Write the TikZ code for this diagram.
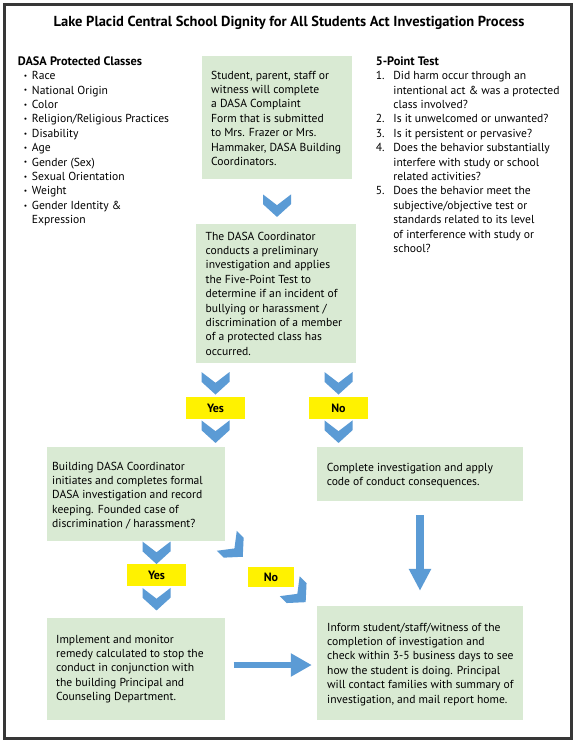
\documentclass[tikz,border=0pt]{standalone}
\usepackage{fontspec}
\setmainfont{PT Sans}
\usetikzlibrary{arrows.meta,calc}
\definecolor{boxgreen}{RGB}{217,234,211}
\definecolor{chevblue}{RGB}{91,155,213}
\definecolor{labyellow}{RGB}{255,242,0}
\definecolor{framegray}{RGB}{55,55,55}
\newcommand\dbul{\hspace*{6pt}\makebox[8.1pt][l]{\raisebox{1.2pt}{\fontsize{7.5}{7.5}\selectfont\textbullet}}}
\newcommand\nitm[1]{\makebox[17.6pt][l]{#1}}
\newcommand\ncnt{\hspace*{17.6pt}}
\newcommand\hdg[1]{{\fontsize{12.3}{14.4}\selectfont\bfseries #1}}
\begin{document}
\begin{tikzpicture}[x=1pt,y=-1pt,
  gbox/.style={fill=boxgreen, draw=none, inner sep=0pt, minimum width=#1},
  txt/.style={anchor=north west, inner sep=0pt, font=\fontsize{11.6}{14.4}\selectfont, align=left},
  lab/.style={fill=labyellow, inner sep=0pt, font=\fontsize{12}{13}\selectfont\bfseries},
  bigarrow/.style={draw=chevblue, line width=#1},
  chev/.pic={\fill[chevblue] (-14,-11.25)--(0,-0.5)--(14,-11.25)--(14,-1.5)--(0,11.25)--(-14,-1.5)--cycle;}
]
\useasboundingbox (0,0) rectangle (576,743);
\fill[white] (0,0) rectangle (576,743);
\draw[framegray, line width=2.6pt] (4.5,4.5) rectangle (571.5,738.5);

\node[inner sep=0pt, font=\fontsize{14.5}{16}\selectfont\bfseries] (title) at (289,23) {Lake Placid Central School Dignity for All Students Act Investigation Process};

% left list
\node[txt] (classes) at (17.7,56.3) {\hdg{DASA Protected Classes}\\
\dbul Race\\ \dbul National Origin\\ \dbul Color\\ \dbul Religion/Religious Practices\\
\dbul Disability\\ \dbul Age\\ \dbul Gender (Sex)\\ \dbul Sexual Orientation\\ \dbul Weight\\
\dbul Gender Identity \&\\ \hspace*{14.1pt}Expression};

% right list
\node[txt] (test) at (375.6,56.3) {\hdg{5-Point Test}\\
\nitm{1.}Did harm occur through an\\ \ncnt intentional act \& was a protected\\ \ncnt class involved?\\
\nitm{2.}Is it unwelcomed or unwanted?\\
\nitm{3.}Is it persistent or pervasive?\\
\nitm{4.}Does the behavior substantially\\ \ncnt interfere with study or school\\ \ncnt related activities?\\
\nitm{5.}Does the behavior meet the\\ \ncnt subjective/objective test or\\ \ncnt standards related to its level\\ \ncnt of interference with study or\\ \ncnt school?};

% boxes
\node[gbox=150pt, minimum height=123pt] (b1) at (277,117.5) {};
\node[gbox=160pt, minimum height=139pt] (b2) at (276,293.5) {};
\node[gbox=178pt, minimum height=94pt] (b3) at (136,494) {};
\node[gbox=206pt, minimum height=54pt] (b4) at (420,474) {};
\node[gbox=178pt, minimum height=102pt] (b5) at (136,669) {};
\node[gbox=206pt, minimum height=114pt] (b6) at (420,663) {};

\node[txt] (t1) at (211,70.7) {Student, parent, staff or\\ witness will complete\\ a DASA Complaint\\ Form that is submitted\\ to Mrs. Frazer or Mrs.\\ Hammaker, DASA Building\\ Coordinators.};
\node[txt] (t2) at (205.5,231.7) {The DASA Coordinator\\ conducts a preliminary\\ investigation and applies\\ the Five-Point Test to\\ determine if an incident of\\ bullying or harassment /\\ discrimination of a member\\ of a protected class has\\ occurred.};
\node[txt] (t3) at (52,461.7) {Building DASA Coordinator\\ initiates and completes formal\\ DASA investigation and record\\ keeping. Founded case of\\ discrimination / harassment?};
\node[txt] (t4) at (326.6,462.7) {Complete investigation and apply\\ code of conduct consequences.};
\node[txt] (t5) at (56,634.7) {Implement and monitor\\ remedy calculated to stop the\\ conduct in conjunction with\\ the building Principal and\\ Counseling Department.};
\node[txt] (t6) at (327,622.7) {Inform student/staff/witness of the\\ completion of investigation and\\ check within 3-5 business days to see\\ how the student is doing. Principal\\ will contact families with summary of\\ investigation, and mail report home.};

% labels
\node[lab, minimum width=59pt, minimum height=22pt] (yes1) at (215.5,408) {Yes};
\node[lab, minimum width=59pt, minimum height=22pt] (no1) at (338.5,408) {No};
\node[lab, minimum width=59pt, minimum height=22pt] (yes2) at (156.5,575) {Yes};
\node[lab, minimum width=46pt, minimum height=20pt] (no2) at (271,577) {No};

% chevrons
\pic at ($(b1.south)+(0,26.5)$) {chev};
\pic at ($(yes1.north)+(0,-13.5)$) {chev};
\pic at ($(yes1.south)+(0,12.5)$) {chev};
\pic at ($(no1.north)+(0,-13.5)$) {chev};
\pic at ($(no1.south)+(0,12.5)$) {chev};
\pic at ($(yes2.north)+(0,-11)$) {chev};
\pic at ($(yes2.south)+(0,13)$) {chev};
\pic[rotate=45] at ($(no2.north west)+(-13,-18)$) {chev};
\pic[rotate=45] at ($(no2.south east)+(3.5,7)$) {chev};

% block arrows
\coordinate (va1) at ($(b4.south)+(0,14)$);
\coordinate (va2) at ($(b6.north)+(0,-15)$);
\draw[bigarrow=8pt, -{Triangle[width=21pt,length=22pt]}] (va1) -- (va2);
\coordinate (ha1) at ($(b5.east)+(8.5,-4)$);
\coordinate (ha2) at ($(b6.west)+(-5,2)$);
\draw[bigarrow=6.5pt, -{Triangle[width=22pt,length=21pt]}] (ha1) -- (ha1 -| ha2);
\end{tikzpicture}
\end{document}
